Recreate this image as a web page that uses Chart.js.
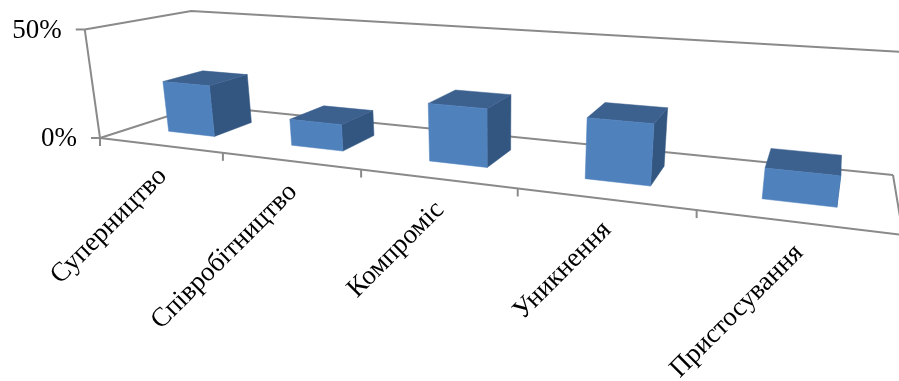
<!DOCTYPE html>
<html>
<head>
<meta charset="utf-8">
<style>
  html, body { margin: 0; padding: 0; background: #fff; }
  #wrap { width: 899px; height: 381px; }
</style>
<script src="https://cdn.jsdelivr.net/npm/chart.js@4"></script>
</head>
<body>
<div id="wrap"><canvas id="c" width="899" height="381"></canvas></div>
<script>
// Conflict-management styles, share of respondents in percent
const categories = ['Суперництво', 'Співробітництво', 'Компроміс', 'Уникнення', 'Пристосування'];
const shares = [24, 12, 25, 25, 12];
const axisTicks = [0, 50];

// Box footprint along the depth axis, as a fraction of the floor depth
const BOX_DEPTH = [0.3, 0.7];

// Screen anchors of the 3D plot box: [u, v, w] -> [x, y]
// u runs along the categories, v into the page, w up the value axis
const FLOOR_ANCHORS = [
  [0, 0, 100, 138], [1, 0, 903, 235], [0, 1, 201, 105.5], [1, 1, 893, 175]
];
const TOP_ANCHORS = [
  [0, 0, 88, 30], [0, 1, 188, 11], [1, 1, 911, 52]
];

function solve(A, b) {
  const n = b.length, M = A.map((r, i) => [...r, b[i]]);
  for (let i = 0; i < n; i++) {
    let p = i;
    for (let r = i + 1; r < n; r++) if (Math.abs(M[r][i]) > Math.abs(M[p][i])) p = r;
    [M[i], M[p]] = [M[p], M[i]];
    for (let r = 0; r < n; r++) {
      if (r === i) continue;
      const f = M[r][i] / M[i][i];
      for (let c = i; c <= n; c++) M[r][c] -= f * M[i][c];
    }
  }
  return M.map((r, i) => r[n] / r[i]);
}

// Perspective camera: floor homography first, then the vertical column by least squares
function buildCamera() {
  const A = [], b = [];
  for (const [u, v, x, y] of FLOOR_ANCHORS) {
    A.push([u, v, 1, 0, 0, 0, -u * x, -v * x]); b.push(x);
    A.push([0, 0, 0, u, v, 1, -u * y, -v * y]); b.push(y);
  }
  const h = solve(A, b);
  const rows = [], rhs = [];
  for (const [u, v, x, y] of TOP_ANCHORS) {
    const d = h[6] * u + h[7] * v + 1;
    rows.push([1, 0, -x]); rhs.push(x * d - (h[0] * u + h[1] * v + h[2]));
    rows.push([0, 1, -y]); rhs.push(y * d - (h[3] * u + h[4] * v + h[5]));
  }
  const N = [0, 1, 2].map(i => [0, 1, 2].map(j => rows.reduce((s, r) => s + r[i] * r[j], 0)));
  const t = [0, 1, 2].map(i => rows.reduce((s, r, k) => s + r[i] * rhs[k], 0));
  const [a, e, g] = solve(N, t);
  return (u, v, w) => {
    const d = h[6] * u + h[7] * v + g * w + 1;
    return [(h[0] * u + h[1] * v + a * w + h[2]) / d, (h[3] * u + h[4] * v + e * w + h[5]) / d];
  };
}
const project = buildCamera();

function strokePath(ctx, pts) {
  ctx.beginPath();
  pts.forEach((p, i) => { const [x, y] = project(...p); i ? ctx.lineTo(x, y) : ctx.moveTo(x, y); });
  ctx.stroke();
}
function fillFace(ctx, pts, color) {
  ctx.beginPath();
  pts.forEach((p, i) => { const [x, y] = project(...p); i ? ctx.lineTo(x, y) : ctx.moveTo(x, y); });
  ctx.closePath();
  ctx.fillStyle = color;
  ctx.fill();
  ctx.strokeStyle = color;
  ctx.lineWidth = 0.5;
  ctx.stroke();
}

const FONT = '"Liberation Serif", "Times New Roman", serif';
const AXIS = '#8a8a8a';

const plotBox = {
  id: 'plotBox',
  // Walls, floor, ticks and axis labels, all positioned from the chart scales
  beforeDatasetsDraw(chart) {
    const { ctx, scales: { x, y } } = chart;
    const area = chart.chartArea;
    const toW = v => (area.bottom - y.getPixelForValue(v)) / area.height;
    ctx.save();
    ctx.strokeStyle = AXIS;
    ctx.lineWidth = 2;
    ctx.lineJoin = 'miter';

    y.ticks.forEach(t => {
      const w = toW(t.value);
      strokePath(ctx, [[0, 0, w], [0, 1, w], [1, 1, w]]);
    });
    strokePath(ctx, [[0, 0, 0], [0, 0, 1]]);
    strokePath(ctx, [[0, 0, 0], [1, 0, 0], [1, 1, 0]]);

    // Category tick marks on the band boundaries
    const n = x.getLabels().length;
    for (let i = 0; i <= n; i++) {
      const [px, py] = project(i / n, 0, 0);
      ctx.beginPath(); ctx.moveTo(px, py); ctx.lineTo(px, py + 8); ctx.stroke();
    }

    // Value axis labels and ticks
    ctx.fillStyle = '#000';
    ctx.font = '27px ' + FONT;
    ctx.textAlign = 'right';
    ctx.textBaseline = 'middle';
    y.ticks.forEach(t => {
      const [px, py] = project(0, 0, toW(t.value));
      ctx.beginPath(); ctx.moveTo(px - 9, py); ctx.lineTo(px, py); ctx.stroke();
      ctx.fillText(t.label, px - 23, py + 1);
    });

    // Rotated category labels ending under each band centre
    x.getLabels().forEach((label, i) => {
      const u = (x.getPixelForTick(i) - area.left) / area.width;
      const [px, py] = project(u, 0, 0);
      ctx.save();
      ctx.translate(px + 3, py + 27);
      ctx.rotate(-Math.PI / 4);
      ctx.textAlign = 'right';
      ctx.textBaseline = 'middle';
      ctx.fillText(label, 0, 0);
      ctx.restore();
    });
    ctx.restore();
  },
  // Each bar element becomes a projected box
  beforeDatasetDraw(chart, args) {
    const { ctx, chartArea: area } = chart;
    const ds = chart.data.datasets[args.index];
    const [front, top, side] = ds.faceColors;
    const [v0, v1] = BOX_DEPTH;
    ctx.save();
    args.meta.data.forEach(el => {
      const u0 = (el.x - el.width / 2 - area.left) / area.width;
      const u1 = (el.x + el.width / 2 - area.left) / area.width;
      const w = (el.base - el.y) / area.height;
      fillFace(ctx, [[u1, v0, 0], [u1, v1, 0], [u1, v1, w], [u1, v0, w]], side);
      fillFace(ctx, [[u0, v0, w], [u1, v0, w], [u1, v1, w], [u0, v1, w]], top);
      fillFace(ctx, [[u0, v0, 0], [u1, v0, 0], [u1, v0, w], [u0, v0, w]], front);
    });
    ctx.restore();
    return false;
  }
};

new Chart(document.getElementById('c'), {
  type: 'bar',
  data: {
    labels: categories,
    datasets: [{
      data: shares,
      backgroundColor: '#4F81BD',
      faceColors: ['#4F81BD', '#3C618F', '#335681'],
      categoryPercentage: 0.385,
      barPercentage: 1
    }]
  },
  options: {
    responsive: false,
    animation: false,
    layout: { padding: 0 },
    plugins: { legend: { display: false }, tooltip: { enabled: false }, title: { display: false } },
    scales: {
      x: { display: false, grid: { display: false } },
      y: {
        display: false,
        min: axisTicks[0],
        max: axisTicks[axisTicks.length - 1],
        afterBuildTicks: s => { s.ticks = axisTicks.map(value => ({ value })); },
        ticks: { callback: v => v + '%' },
        grid: { display: false }
      }
    }
  },
  plugins: [plotBox]
});
</script>
</body>
</html>
